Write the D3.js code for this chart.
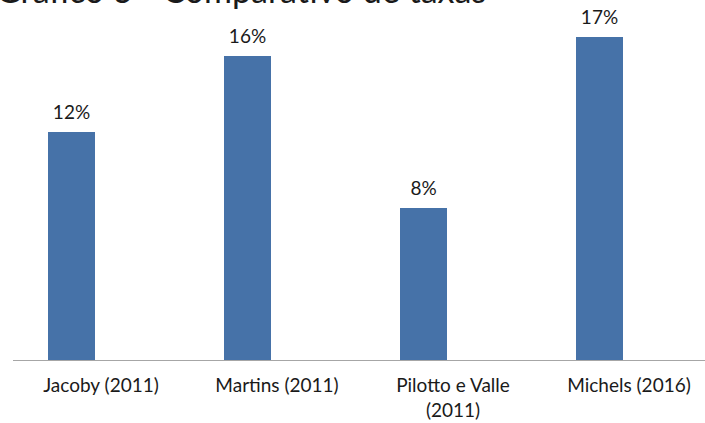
<!DOCTYPE html>
<html><head><meta charset="utf-8">
<script src="https://cdn.jsdelivr.net/npm/d3@7"></script>
<style>body{margin:0;background:#fff;}svg{display:block;font-family:Lato,"Open Sans",sans-serif;}</style>
</head><body>
<svg id="c" width="705" height="423"></svg>
<script>
const title = "Gráfico 3 - Comparativo de taxas";
const categories = [["Jacoby (2011)"], ["Martins (2011)"], ["Pilotto e Valle", "(2011)"], ["Michels (2016)"]];
const values = [0.12, 0.16, 0.08, 0.17];
const series = ["Taxa", ""];

const svg = d3.select("#c");
const keys = categories.map(c => c.join(" "));
const x = d3.scaleBand().domain(keys).range([13, 717]).padding(0);
const x1 = d3.scaleBand().domain(series).range([35, 129]).padding(0);
const y = d3.scaleLinear().domain([0, 0.17]).range([360, 37]);
const fmt = d3.format(".0%");

svg.append("text").attr("x", -4).attr("y", 3).attr("font-size", 34).attr("fill", "#1a1a1a").text(title);

svg.selectAll("rect.bar").data(values).join("rect").attr("class", "bar")
  .attr("x", (d, i) => x(keys[i]) + x1(series[0]))
  .attr("width", x1.bandwidth())
  .attr("y", d => y(d))
  .attr("height", d => y(0) - y(d))
  .attr("fill", "#4672a8");

svg.selectAll("text.lbl").data(values).join("text").attr("class", "lbl")
  .attr("x", (d, i) => x(keys[i]) + x1(series[0]) + x1.bandwidth() / 2)
  .attr("y", d => y(d) - 13)
  .attr("text-anchor", "middle").attr("font-size", 19).attr("fill", "#1a1a1a")
  .text(d => fmt(d));

const axis = d3.axisBottom(x).tickSize(0).tickFormat("");
const g = svg.append("g").attr("transform", `translate(0,${y(0)})`).call(axis);
g.select(".domain").attr("stroke", "#a6a6a6").attr("stroke-width", 1.2).attr("d", "M13,0.5H705");

categories.forEach((lines, i) => {
  const t = svg.append("text").attr("text-anchor", "middle").attr("font-size", 19).attr("fill", "#1a1a1a")
    .attr("x", x(keys[i]) + x.bandwidth() / 2).attr("y", 392);
  lines.forEach((ln, j) => t.append("tspan").attr("x", x(keys[i]) + x.bandwidth() / 2).attr("dy", j ? 25 : 0).text(ln));
});
</script>
</body></html>
